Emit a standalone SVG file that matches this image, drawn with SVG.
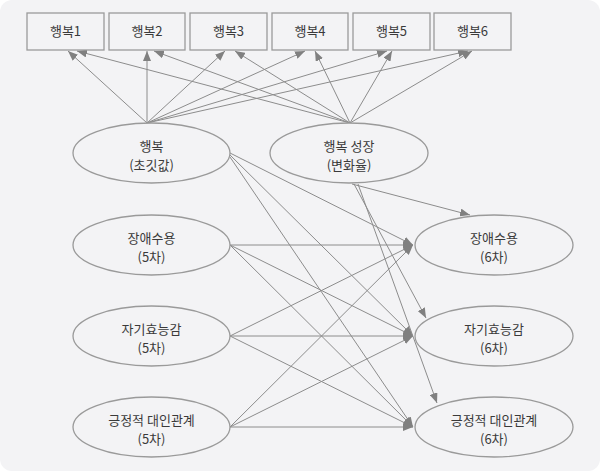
<svg xmlns="http://www.w3.org/2000/svg" width="600" height="471" viewBox="0 0 600 471">
<style>
.bg{fill:#f3f3f5}
.box{fill:#f3f3f5;stroke:#9a9a9a;stroke-width:1.3}
.ell{fill:#f3f3f5;stroke:#9a9a9a;stroke-width:1.3}
.t{font-family:"Noto Sans CJK KR","Noto Sans",sans-serif;font-size:13px;fill:#3a3a3a;text-anchor:middle}
.c line{stroke:#8c8c8c;stroke-width:1;marker-end:url(#ah)}
</style>
<defs>
<marker id="ah" markerUnits="userSpaceOnUse" markerWidth="10" markerHeight="8" refX="10" refY="4" orient="auto">
<path d="M0,0 L10,4 L0,8 z" fill="#808080"/>
</marker>
</defs>
<rect width="600" height="471" fill="#ffffff"/>
<rect class="bg" x="0" y="0" width="600" height="471" rx="12"/>
<g class="c">
<line x1="147" y1="123" x2="68" y2="51"/>
<line x1="147" y1="123" x2="147" y2="51"/>
<line x1="147" y1="123" x2="225" y2="51"/>
<line x1="147" y1="123" x2="305" y2="51"/>
<line x1="147" y1="123" x2="387" y2="51"/>
<line x1="147" y1="123" x2="468" y2="51"/>
<line x1="350" y1="123" x2="77" y2="51"/>
<line x1="350" y1="123" x2="154" y2="51"/>
<line x1="350" y1="123" x2="235" y2="51"/>
<line x1="350" y1="123" x2="315" y2="51"/>
<line x1="350" y1="123" x2="392" y2="51"/>
<line x1="350" y1="123" x2="472" y2="51"/>
<line x1="230" y1="153" x2="413" y2="245"/>
<line x1="230" y1="155" x2="413" y2="336"/>
<line x1="230" y1="157" x2="413" y2="427"/>
<line x1="352" y1="184" x2="470" y2="215"/>
<line x1="354" y1="184" x2="426" y2="318"/>
<line x1="358" y1="184" x2="437" y2="403"/>
<line x1="230" y1="245" x2="413" y2="245"/>
<line x1="230" y1="245" x2="413" y2="336"/>
<line x1="230" y1="245" x2="413" y2="427"/>
<line x1="230" y1="336" x2="413" y2="245"/>
<line x1="230" y1="336" x2="413" y2="336"/>
<line x1="230" y1="336" x2="413" y2="427"/>
<line x1="230" y1="427" x2="413" y2="245"/>
<line x1="230" y1="427" x2="413" y2="336"/>
<line x1="230" y1="427" x2="413" y2="427"/>
</g>
<g id="h1"><rect class="box" x="27" y="13" width="77" height="37"/><text class="t" x="65.5" y="36">행복1</text></g>
<g id="h2"><rect class="box" x="109" y="13" width="76" height="37"/><text class="t" x="147" y="36">행복2</text></g>
<g id="h3"><rect class="box" x="190" y="13" width="77" height="37"/><text class="t" x="228.5" y="36">행복3</text></g>
<g id="h4"><rect class="box" x="272" y="13" width="76" height="37"/><text class="t" x="310" y="36">행복4</text></g>
<g id="h5"><rect class="box" x="353" y="13" width="77" height="37"/><text class="t" x="391.5" y="36">행복5</text></g>
<g id="h6"><rect class="box" x="434" y="13" width="77" height="37"/><text class="t" x="472.5" y="36">행복6</text></g>
<g id="init"><ellipse class="ell" cx="151.5" cy="153" rx="78.5" ry="30"/><text class="t" x="151.5" y="151">행복</text><text class="t" x="151.5" y="170">(초깃값)</text></g>
<g id="growth"><ellipse class="ell" cx="349" cy="153" rx="79" ry="30"/><text class="t" x="349" y="151">행복 성장</text><text class="t" x="349" y="170">(변화율)</text></g>
<g id="acc5"><ellipse class="ell" cx="151.5" cy="245" rx="78.5" ry="30"/><text class="t" x="151.5" y="243">장애수용</text><text class="t" x="151.5" y="262">(5차)</text></g>
<g id="eff5"><ellipse class="ell" cx="151.5" cy="336" rx="78.5" ry="30"/><text class="t" x="151.5" y="334">자기효능감</text><text class="t" x="151.5" y="353">(5차)</text></g>
<g id="rel5"><ellipse class="ell" cx="151.5" cy="427" rx="78.5" ry="30"/><text class="t" x="151.5" y="425">긍정적 대인관계</text><text class="t" x="151.5" y="444">(5차)</text></g>
<g id="acc6"><ellipse class="ell" cx="494" cy="245" rx="79" ry="30"/><text class="t" x="494" y="243">장애수용</text><text class="t" x="494" y="262">(6차)</text></g>
<g id="eff6"><ellipse class="ell" cx="494" cy="336" rx="79" ry="30"/><text class="t" x="494" y="334">자기효능감</text><text class="t" x="494" y="353">(6차)</text></g>
<g id="rel6"><ellipse class="ell" cx="494" cy="427" rx="79" ry="30"/><text class="t" x="494" y="425">긍정적 대인관계</text><text class="t" x="494" y="444">(6차)</text></g>
</svg>
